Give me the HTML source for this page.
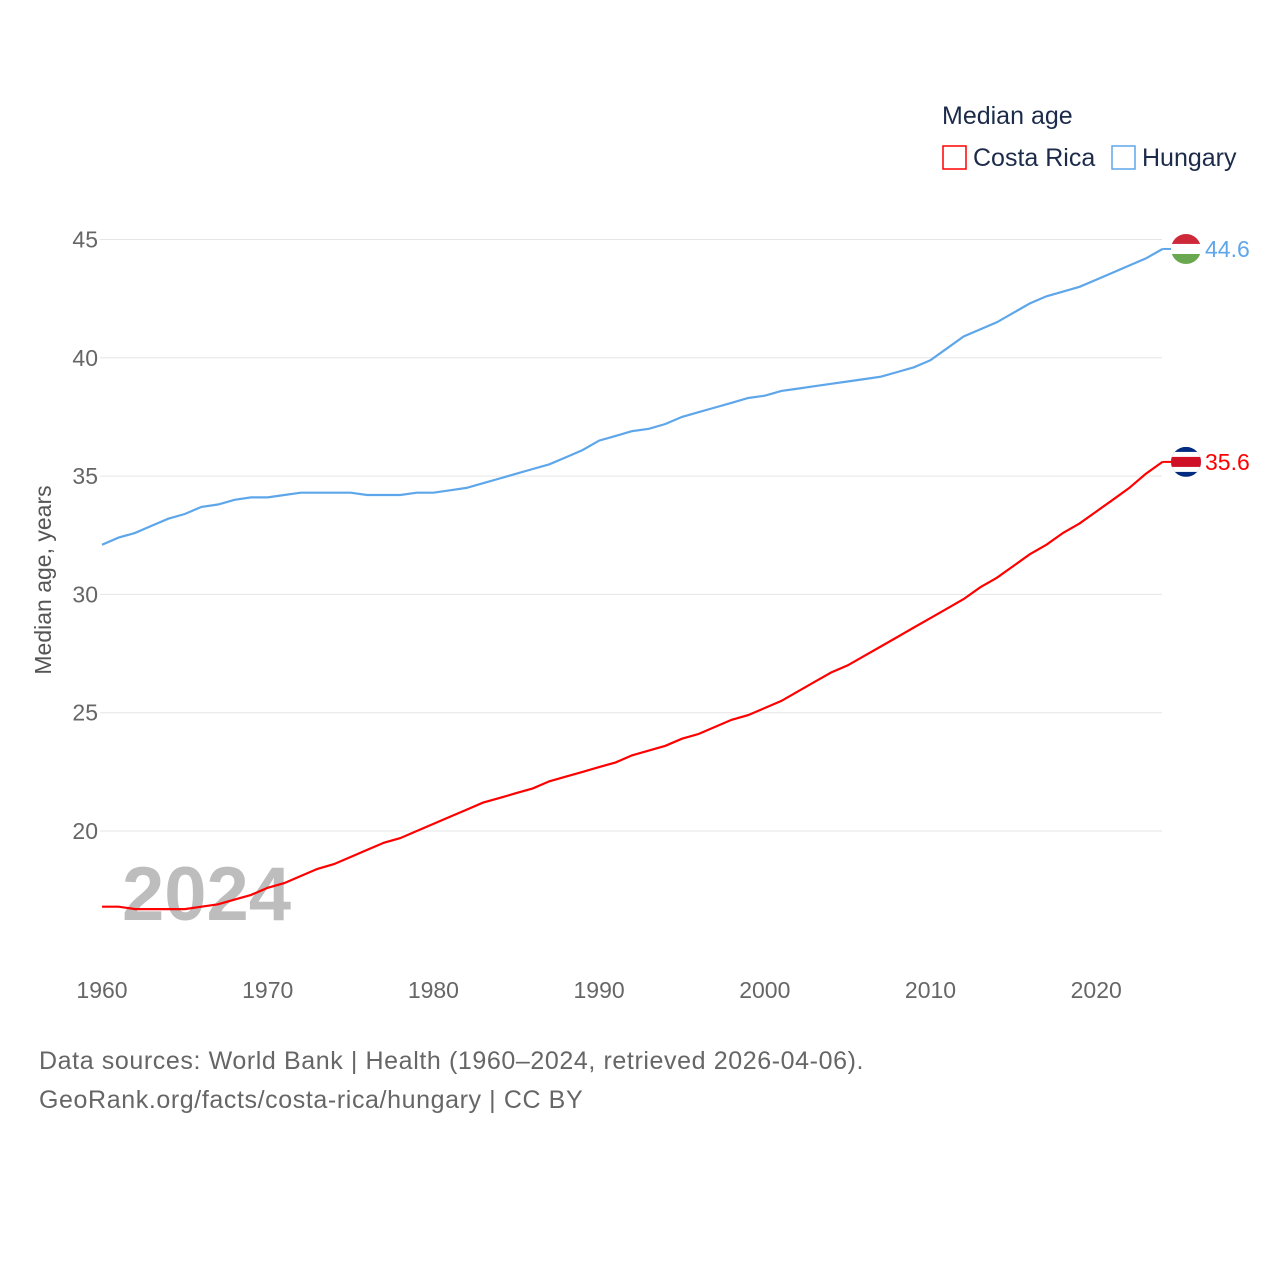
<!DOCTYPE html>
<html><head><meta charset="utf-8">
<style>
body{margin:0;background:#fff;font-family:"Liberation Sans",sans-serif;}
svg text{font-family:"Liberation Sans",sans-serif;}
</style></head>
<body>
<svg width="1280" height="1280" viewBox="0 0 1280 1280">
<g>
<text x="942" y="124" font-size="25" fill="#1c2b4a">Median age</text>
<rect x="943" y="146" width="23" height="23" fill="none" stroke="#f00" stroke-width="1.5"/>
<text x="973" y="166" font-size="25" fill="#1c2b4a">Costa Rica</text>
<rect x="1112" y="146" width="23" height="23" fill="none" stroke="#5ea6ea" stroke-width="1.5"/>
<text x="1142" y="166" font-size="25" fill="#1c2b4a">Hungary</text>
</g>
<g id="grid"></g>
<g id="yticks"></g>
<g id="xticks"></g>
<text transform="translate(51,580) rotate(-90)" text-anchor="middle" font-size="23" fill="#555">Median age, years</text>
<text x="122" y="920" font-size="76" font-weight="bold" fill="#bdbdbd">2024</text>
<g id="series"></g>
<g>
<text x="39" y="1069" font-size="25" letter-spacing="0.6" fill="#666">Data sources: World Bank | Health (1960–2024, retrieved 2026-04-06).</text>
<text x="39" y="1108" font-size="25" letter-spacing="0.6" fill="#666">GeoRank.org/facts/costa-rica/hungary | CC BY</text>
</g>
</svg>
<script>
const years=[];for(let y=1960;y<=2024;y++)years.push(y);
const hungary=[32.1,32.4,32.6,32.9,33.2,33.4,33.7,33.8,34.0,34.1,34.1,34.2,34.3,34.3,34.3,34.3,34.2,34.2,34.2,34.3,34.3,34.4,34.5,34.7,34.9,35.1,35.3,35.5,35.8,36.1,36.5,36.7,36.9,37.0,37.2,37.5,37.7,37.9,38.1,38.3,38.4,38.6,38.7,38.8,38.9,39.0,39.1,39.2,39.4,39.6,39.9,40.4,40.9,41.2,41.5,41.9,42.3,42.6,42.8,43.0,43.3,43.6,43.9,44.2,44.6];
const costaRica=[16.8,16.8,16.7,16.7,16.7,16.7,16.8,16.9,17.1,17.3,17.6,17.8,18.1,18.4,18.6,18.9,19.2,19.5,19.7,20.0,20.3,20.6,20.9,21.2,21.4,21.6,21.8,22.1,22.3,22.5,22.7,22.9,23.2,23.4,23.6,23.9,24.1,24.4,24.7,24.9,25.2,25.5,25.9,26.3,26.7,27.0,27.4,27.8,28.2,28.6,29.0,29.4,29.8,30.3,30.7,31.2,31.7,32.1,32.6,33.0,33.5,34.0,34.5,35.1,35.6];
const yTicks=[20,25,30,35,40,45];
const xTicks=[1960,1970,1980,1990,2000,2010,2020];
const NS="http://www.w3.org/2000/svg";
const X=y=>102+(y-1960)*16.57;
const Y=v=>831-(v-20)*23.66;
function mk(tag,attrs,parent){const e=document.createElementNS(NS,tag);for(const k in attrs)e.setAttribute(k,attrs[k]);parent.appendChild(e);return e;}
const grid=document.getElementById('grid'),yt=document.getElementById('yticks'),xt=document.getElementById('xticks'),ser=document.getElementById('series');
yTicks.forEach(v=>{
 const l=mk('line',{x1:100,x2:1162,y1:Y(v),y2:Y(v),stroke:'#e6e6e6','stroke-width':1},grid);
 
 
 const t=mk('text',{x:98,y:Y(v)+8,'text-anchor':'end','font-size':23,fill:'#666'},yt);
 t.textContent=v;
 
 
});
xTicks.forEach(v=>{
 const t=mk('text',{x:X(v),y:998,'text-anchor':'middle','font-size':23,fill:'#666'},xt);
 t.textContent=v;
 
 
});
function line(data,color,name){
 const d=data.map((v,i)=>(i?'L':'M')+X(years[i]).toFixed(1)+','+Y(v).toFixed(1)).join('');
 const p=mk('path',{d:d,fill:'none',stroke:color,'stroke-width':2.2},ser);
 
 
 const last=data[data.length-1],ly=Y(last);
 const ext=mk('line',{x1:X(2024),x2:1174,y1:ly,y2:ly,stroke:color,'stroke-width':2},ser);
 
 
 return ly;
}
const hy=line(hungary,'#5ea6ea','hungary');
const cy=line(costaRica,'#f00','costa-rica');
const fh=mk('g',{},ser);


const chp=mk('clipPath',{id:'ch'},fh);mk('circle',{cx:1186,cy:hy,r:15},chp);
mk('rect',{x:1171,y:hy-15,width:30,height:10,fill:'#ce2939','clip-path':'url(#ch)'},fh);
mk('rect',{x:1171,y:hy-5,width:30,height:10,fill:'#fff','clip-path':'url(#ch)'},fh);
mk('rect',{x:1171,y:hy+5,width:30,height:10,fill:'#6aa84f','clip-path':'url(#ch)'},fh);
const fc=mk('g',{},ser);


const cp=mk('clipPath',{id:'cc'},fc);mk('circle',{cx:1186,cy:cy,r:15},cp);
mk('rect',{x:1171,y:cy-15,width:30,height:30,fill:'#002b7f','clip-path':'url(#cc)'},fc);
mk('rect',{x:1171,y:cy-10,width:30,height:20,fill:'#fff','clip-path':'url(#cc)'},fc);
mk('rect',{x:1171,y:cy-5,width:30,height:10,fill:'#ce1126','clip-path':'url(#cc)'},fc);
const th=mk('text',{x:1205,y:hy+8,'font-size':23,fill:'#5ea6ea'},ser);
th.textContent=hungary[hungary.length-1].toFixed(1);


const tc=mk('text',{x:1205,y:cy+8,'font-size':23,fill:'#f00'},ser);
tc.textContent=costaRica[costaRica.length-1].toFixed(1);


</script>
</body></html>
